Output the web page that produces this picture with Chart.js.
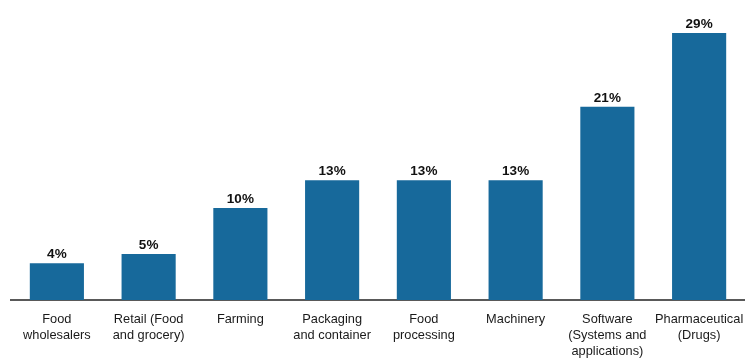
<!DOCTYPE html>
<html>
<head>
<meta charset="utf-8">
<script src="https://cdn.jsdelivr.net/npm/chart.js@4/dist/chart.umd.min.js"></script>
<style>
  html, body { margin: 0; padding: 0; background: #fff; }
  #wrap { width: 745px; height: 358px; }
</style>
</head>
<body>
<div id="wrap"><canvas id="myChart"></canvas></div>
<script>
// sectors, each label may wrap onto several lines
const sectors = [
    ['Food', 'wholesalers'],
    ['Retail (Food', 'and grocery)'],
    'Farming',
    ['Packaging', 'and container'],
    ['Food', 'processing'],
    'Machinery',
    ['Software', '(Systems and', 'applications)'],
    ['Pharmaceutical', '(Drugs)']
];
const shares = [4, 5, 10, 13, 13, 13, 21, 29];

const sans = '"Liberation Sans", Arial, sans-serif';

// prints the value over each bar
const valueLabels = {
    id: 'valueLabels',
    afterDatasetsDraw(chart) {
        const ctx = chart.ctx;
        const meta = chart.getDatasetMeta(0);
        ctx.save();
        ctx.font = 'bold 13.5px ' + sans;
        ctx.fillStyle = '#111';
        ctx.textAlign = 'center';
        ctx.textBaseline = 'alphabetic';
        meta.data.forEach((bar, i) => {
            ctx.fillText(shares[i] + '%', bar.x, bar.y - 5);
        });
        ctx.restore();
    }
};

new Chart(document.getElementById('myChart'), {
    type: 'bar',
    data: {
        labels: sectors,
        datasets: [{
            data: shares,
            backgroundColor: '#17699b',
            categoryPercentage: 1,
            barPercentage: 0.59
        }]
    },
    options: {
        responsive: true,
        maintainAspectRatio: false,
        animation: false,
        layout: { padding: { top: 10, left: 11, right: 0, bottom: 0 } },
        plugins: {
            legend: { display: false },
            tooltip: { enabled: false }
        },
        scales: {
            x: {
                grid: { display: false, drawTicks: false },
                border: { display: true, color: '#595959', width: 2 },
                ticks: {
                    autoSkip: false,
                    maxRotation: 0,
                    padding: 11,
                    color: '#1a1a1a',
                    font: { family: sans, size: 12.8, lineHeight: '16px' }
                },
                // labels may run to the canvas edges, keep the plot full width
                afterFit(scale) {
                    scale.paddingLeft = 0;
                    scale.paddingRight = 0;
                    scale.height = 58;
                }
            },
            y: {
                display: false,
                min: 0,
                max: 31.5
            }
        }
    },
    plugins: [valueLabels]
});
</script>
</body>
</html>
